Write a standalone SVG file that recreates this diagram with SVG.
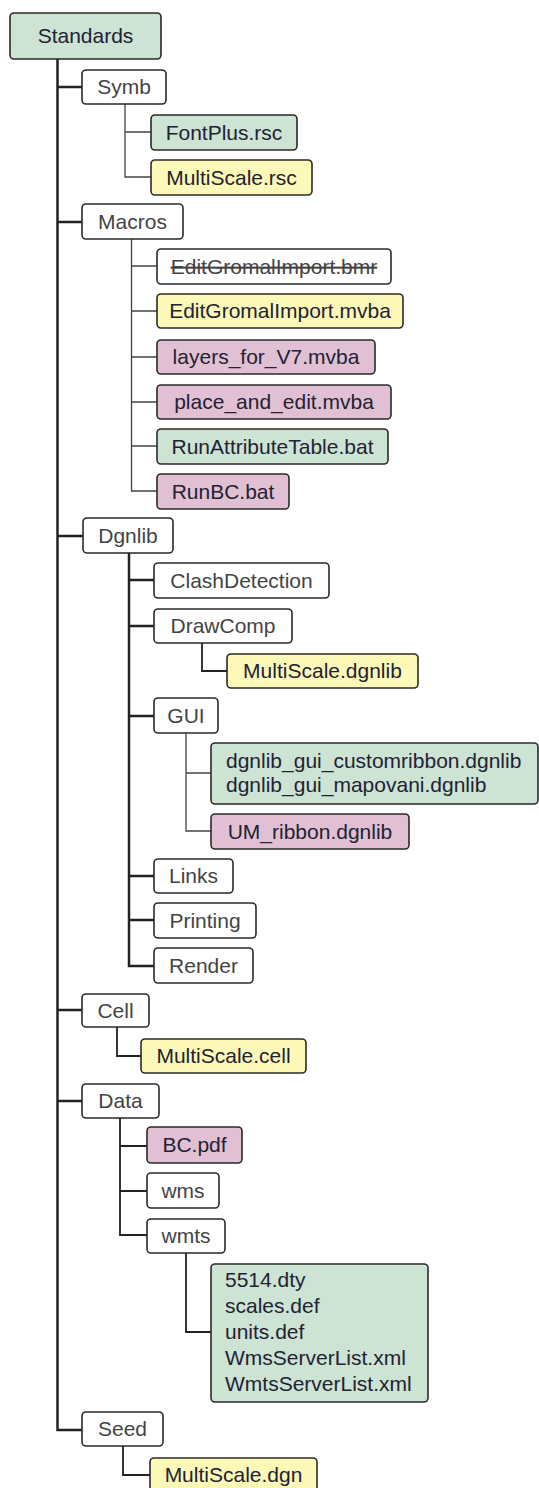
<svg xmlns="http://www.w3.org/2000/svg" width="539" height="1488" viewBox="0 0 539 1488">
<style>
.n rect{stroke:#2a2a2a;stroke-width:1.6}
.w{fill:#ffffff}
.g{fill:#cde3d3}
.y{fill:#fdf9b8}
.p{fill:#e1c0d4}
text{font-family:"Liberation Sans",Arial,sans-serif;font-size:21px;text-anchor:middle}
.tw{fill:#444444}
.tc{fill:#222233}
.l{text-anchor:start}
.s{text-decoration:line-through}
#connectors path{fill:none;stroke:#222;stroke-linejoin:miter}
.thick{stroke-width:2.5}
.mid{stroke-width:1.8}
#connectors .thin{stroke-width:1.3;stroke:#444}
</style>
<rect width="539" height="1488" style="fill:#ffffff;stroke:none"/>
<g id="connectors">
<path class="thick" d="M57.5,59 V1430 H82 M57.5,87 H82 M57.5,222 H82 M57.5,536 H83 M57.5,1010 H82 M57.5,1101 H82"/>
<path class="thin" d="M125,104 V177 H151 M125,132 H151"/>
<path class="thin" d="M131.5,239 V491 H157 M131.5,266 H157 M131.5,311 H157 M131.5,357 H157 M131.5,402 H157 M131.5,446 H157"/>
<path class="thick" d="M129,553 V966 H154 M129,580 H154 M129,626 H154 M129,716 H154 M129,876 H154 M129,920 H154"/>
<path class="mid" d="M202,643 V671 H227"/>
<path class="thin" d="M186,733 V831 H211 M186,773 H211"/>
<path class="mid" d="M117,1027 V1056 H141"/>
<path class="mid" d="M120,1118 V1235 H147 M120,1146 H147 M120,1191 H147"/>
<path class="mid" d="M186,1253 V1332 H211"/>
<path class="mid" d="M123,1446 V1475 H150"/>
</g>
<g id="n-standards" class="n"><rect class="g" x="10" y="13" width="151" height="46" rx="4"/><text class="tc" x="85.5" y="43">Standards</text></g>
<g id="n-symb" class="n"><rect class="w" x="82" y="70" width="84" height="34" rx="4"/><text class="tw" x="124" y="94">Symb</text></g>
<g id="n-fontplus" class="n"><rect class="g" x="151" y="115" width="146" height="35" rx="4"/><text class="tc" x="224" y="140">FontPlus.rsc</text></g>
<g id="n-multiscale-rsc" class="n"><rect class="y" x="151" y="160" width="161" height="35" rx="4"/><text class="tc" x="231.5" y="185">MultiScale.rsc</text></g>
<g id="n-macros" class="n"><rect class="w" x="82" y="204" width="101" height="35" rx="4"/><text class="tw" x="132.5" y="229">Macros</text></g>
<g id="n-bmr" class="n"><rect class="w" x="157" y="249" width="234" height="35" rx="4"/><text class="tw s" x="274" y="274">EditGromalImport.bmr</text></g>
<g id="n-mvba" class="n"><rect class="y" x="157" y="294" width="246" height="34" rx="4"/><text class="tc" x="280" y="318">EditGromalImport.mvba</text></g>
<g id="n-layers" class="n"><rect class="p" x="157" y="340" width="218" height="34" rx="4"/><text class="tc" x="266" y="364">layers_for_V7.mvba</text></g>
<g id="n-place" class="n"><rect class="p" x="157" y="385" width="234" height="34" rx="4"/><text class="tc" x="274" y="409">place_and_edit.mvba</text></g>
<g id="n-runattr" class="n"><rect class="g" x="157" y="429" width="231" height="35" rx="4"/><text class="tc" x="272.5" y="454">RunAttributeTable.bat</text></g>
<g id="n-runbc" class="n"><rect class="p" x="157" y="474" width="132" height="35" rx="4"/><text class="tc" x="223" y="499">RunBC.bat</text></g>
<g id="n-dgnlib" class="n"><rect class="w" x="83" y="518" width="90" height="35" rx="4"/><text class="tw" x="128" y="543">Dgnlib</text></g>
<g id="n-clash" class="n"><rect class="w" x="154" y="563" width="175" height="35" rx="4"/><text class="tw" x="241.5" y="588">ClashDetection</text></g>
<g id="n-drawcomp" class="n"><rect class="w" x="154" y="609" width="138" height="34" rx="4"/><text class="tw" x="223" y="633">DrawComp</text></g>
<g id="n-multiscale-dgnlib" class="n"><rect class="y" x="227" y="654" width="191" height="34" rx="4"/><text class="tc" x="322.5" y="678">MultiScale.dgnlib</text></g>
<g id="n-gui" class="n"><rect class="w" x="154" y="698" width="64" height="35" rx="4"/><text class="tw" x="186" y="723">GUI</text></g>
<g id="n-gui-files" class="n"><rect class="g" x="211" y="743" width="327" height="61" rx="4"/><text class="tc l" x="226" y="768">dgnlib_gui_customribbon.dgnlib</text><text class="tc l" x="226" y="792">dgnlib_gui_mapovani.dgnlib</text></g>
<g id="n-umribbon" class="n"><rect class="p" x="211" y="814" width="198" height="35" rx="4"/><text class="tc" x="310" y="839">UM_ribbon.dgnlib</text></g>
<g id="n-links" class="n"><rect class="w" x="154" y="859" width="79" height="34" rx="4"/><text class="tw" x="193.5" y="883">Links</text></g>
<g id="n-printing" class="n"><rect class="w" x="154" y="903" width="102" height="35" rx="4"/><text class="tw" x="205" y="928">Printing</text></g>
<g id="n-render" class="n"><rect class="w" x="154" y="948" width="99" height="35" rx="4"/><text class="tw" x="203.5" y="973">Render</text></g>
<g id="n-cell" class="n"><rect class="w" x="82" y="994" width="67" height="33" rx="4"/><text class="tw" x="115.5" y="1018">Cell</text></g>
<g id="n-multiscale-cell" class="n"><rect class="y" x="141" y="1039" width="165" height="34" rx="4"/><text class="tc" x="223.5" y="1063">MultiScale.cell</text></g>
<g id="n-data" class="n"><rect class="w" x="82" y="1084" width="77" height="34" rx="4"/><text class="tw" x="120.5" y="1108">Data</text></g>
<g id="n-bcpdf" class="n"><rect class="p" x="147" y="1127" width="95" height="36" rx="4"/><text class="tc" x="194.5" y="1152">BC.pdf</text></g>
<g id="n-wms" class="n"><rect class="w" x="147" y="1173" width="72" height="35" rx="4"/><text class="tw" x="183" y="1198">wms</text></g>
<g id="n-wmts" class="n"><rect class="w" x="147" y="1219" width="78" height="34" rx="4"/><text class="tw" x="186" y="1243">wmts</text></g>
<g id="n-wmts-files" class="n"><rect class="g" x="211" y="1264" width="217" height="138" rx="4"/><text class="tc l" x="225" y="1287">5514.dty</text><text class="tc l" x="225" y="1313">scales.def</text><text class="tc l" x="225" y="1339">units.def</text><text class="tc l" x="225" y="1365">WmsServerList.xml</text><text class="tc l" x="225" y="1391">WmtsServerList.xml</text></g>
<g id="n-seed" class="n"><rect class="w" x="82" y="1412" width="81" height="34" rx="4"/><text class="tw" x="122.5" y="1436">Seed</text></g>
<g id="n-multiscale-dgn" class="n"><rect class="y" x="150" y="1458" width="167" height="34" rx="4"/><text class="tc" x="233.5" y="1482">MultiScale.dgn</text></g>
</svg>
